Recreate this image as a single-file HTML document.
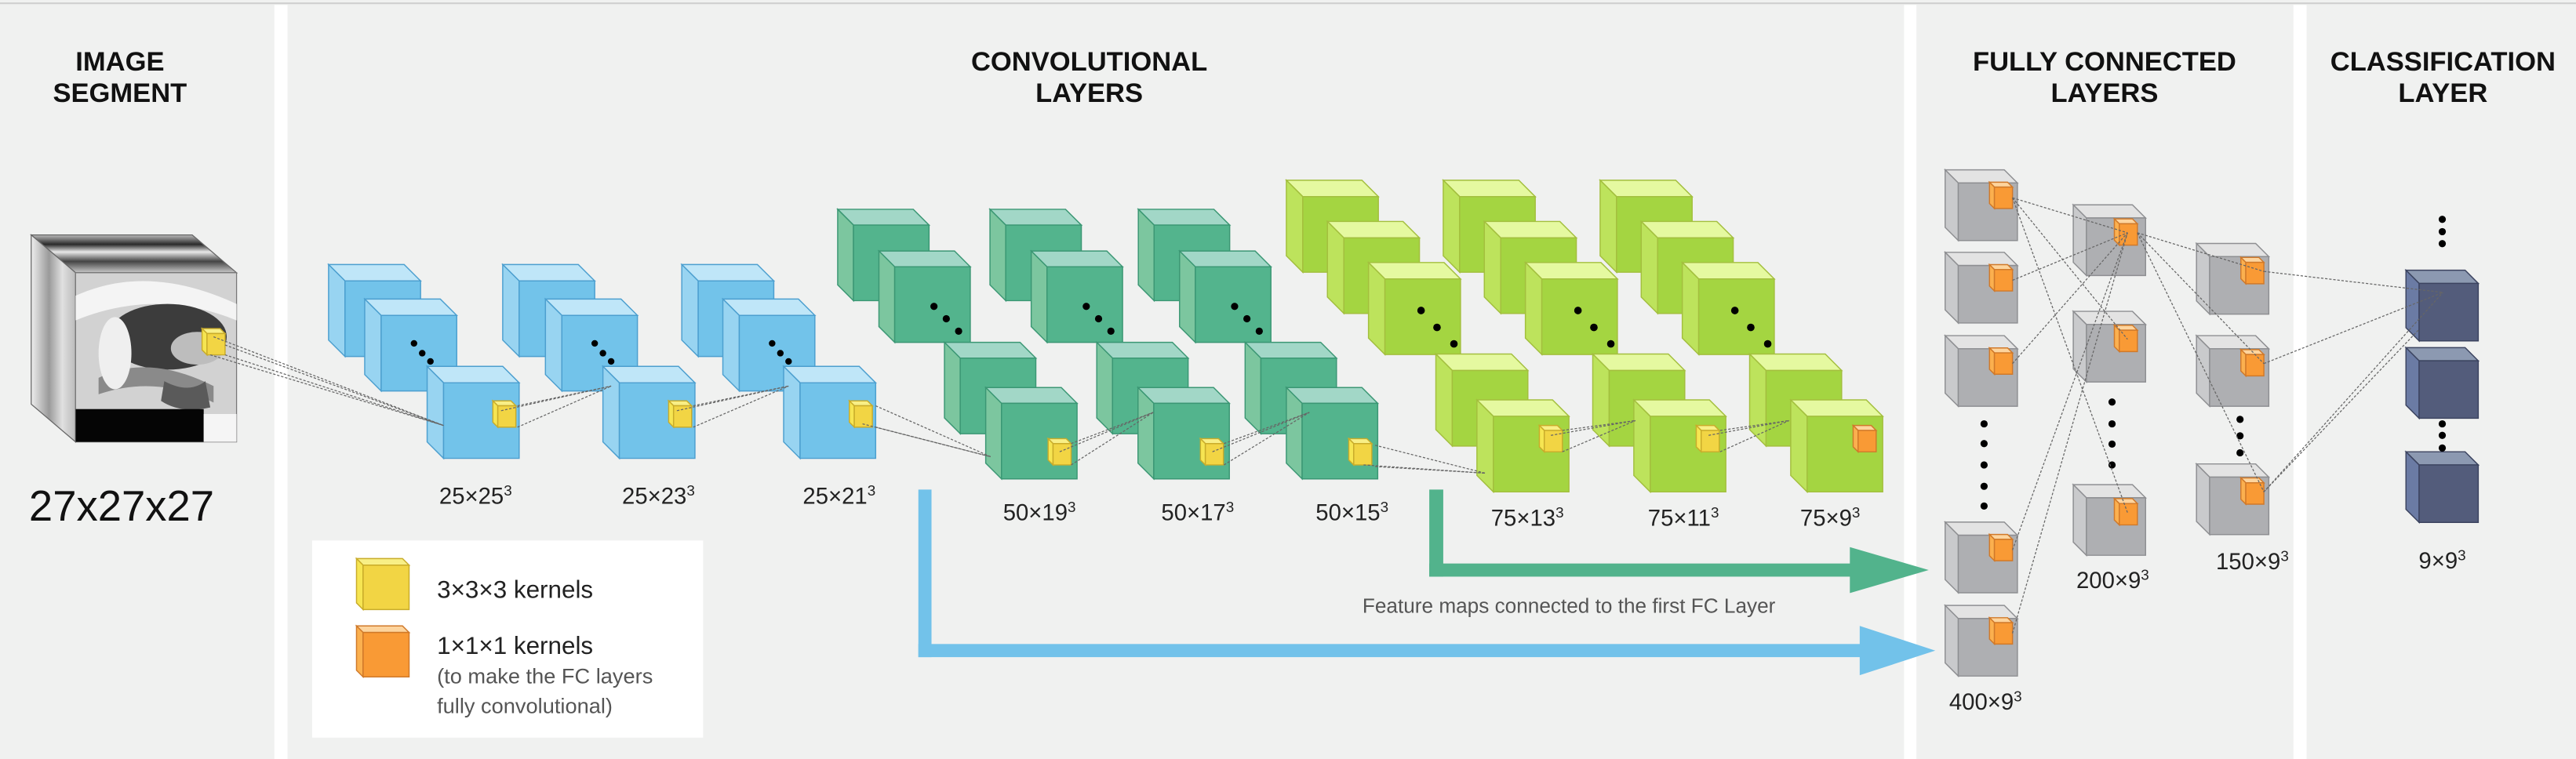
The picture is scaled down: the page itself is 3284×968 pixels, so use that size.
<!DOCTYPE html>
<html><head><meta charset="utf-8">
<style>
html,body{margin:0;padding:0;background:#f0f1f0;}
svg{display:block;}
text{font-family:"Liberation Sans","DejaVu Sans",sans-serif;}
</style></head>
<body>
<svg id="fig" width="3284" height="968" viewBox="0 0 1568 462" preserveAspectRatio="none" xmlns="http://www.w3.org/2000/svg">
  <rect x="0" y="0" width="1568" height="462" fill="#f0f1f0"/>
  <rect x="0" y="1.5" width="1568" height="1" fill="#cfcfcf"/>
  <rect x="167" y="3" width="8" height="459" fill="#ffffff"/>
  <rect x="1159" y="3" width="7.5" height="459" fill="#ffffff"/>
  <rect x="1396" y="3" width="8" height="459" fill="#ffffff"/>

  <g font-weight="bold" font-size="16.5" fill="#111" text-anchor="middle">
    <text x="73" y="43">IMAGE</text>
    <text x="73" y="62">SEGMENT</text>
    <text x="663" y="43">CONVOLUTIONAL</text>
    <text x="663" y="62">LAYERS</text>
    <text x="1281" y="43">FULLY CONNECTED</text>
    <text x="1281" y="62">LAYERS</text>
    <text x="1487" y="43">CLASSIFICATION</text>
    <text x="1487" y="62">LAYER</text>
  </g>

  <g>
    <defs>
      <linearGradient id="topg" x1="0" y1="0" x2="0" y2="1">
        <stop offset="0" stop-color="#bcbcbc"/><stop offset="0.25" stop-color="#2a2a2a"/><stop offset="0.45" stop-color="#e8e8e8"/><stop offset="0.7" stop-color="#444"/><stop offset="1" stop-color="#c8c8c8"/>
      </linearGradient>
      <linearGradient id="sideg" x1="0" y1="0" x2="1" y2="0">
        <stop offset="0" stop-color="#eeeeee"/><stop offset="0.4" stop-color="#9a9a9a"/><stop offset="0.7" stop-color="#e0e0e0"/><stop offset="1" stop-color="#bbb"/>
      </linearGradient>
      <clipPath id="frontclip"><rect x="46" y="166" width="98" height="103"/></clipPath>
    </defs>
    <polygon points="46,166 144,166 117,143 19,143" fill="url(#topg)" stroke="#666" stroke-width="0.6"/>
    <polygon points="46,166 19,143 19,246 46,269" fill="url(#sideg)" stroke="#666" stroke-width="0.6"/>
    <rect x="46" y="166" width="98" height="103" fill="#d2d2d2" stroke="#777" stroke-width="0.6"/>
    <g clip-path="url(#frontclip)">
      <path d="M46,180 Q90,160 144,185 L144,195 Q95,175 46,195 Z" fill="#f4f4f4"/>
      <ellipse cx="102" cy="205" rx="36" ry="20" fill="#3c3c3c"/>
      <ellipse cx="120" cy="212" rx="16" ry="10" fill="#bdbdbd"/>
      <path d="M60,230 Q90,215 130,235 L130,245 Q95,228 60,240 Z" fill="#8a8a8a"/>
      <ellipse cx="70" cy="215" rx="10" ry="22" fill="#efefef"/>
      <path d="M100,232 Q115,240 125,232 L128,248 Q110,252 98,244 Z" fill="#5a5a5a"/>
      <rect x="46" y="249" width="78" height="20" fill="#050505"/>
      <rect x="124" y="252" width="20" height="17" fill="#f5f5f5"/>
    </g>
  </g>
  <text x="74" y="317" font-size="26" text-anchor="middle" fill="#111">27x27x27</text>

  <g>
    <rect x="190" y="329" width="238" height="120" fill="#ffffff"/>
    <text x="266" y="364" font-size="15" fill="#222">3×3×3 kernels</text>
    <text x="266" y="398" font-size="15" fill="#222">1×1×1 kernels</text>
    <text x="266" y="416" font-size="13" fill="#555">(to make the FC layers</text>
    <text x="266" y="434" font-size="13" fill="#555">fully convolutional)</text>
  </g>

  <g fill="#72c2ea">
    <rect x="559" y="298" width="8" height="102"/>
    <rect x="559" y="392" width="576" height="8"/>
    <polygon points="1132,381 1178,396 1132,411"/>
  </g>
  <g fill="#52b38c">
    <rect x="870" y="298" width="8.5" height="53"/>
    <rect x="870" y="343" width="260" height="8"/>
    <polygon points="1126,333 1174,347 1126,361"/>
  </g>
  <text x="955" y="373" font-size="12.5" text-anchor="middle" fill="#555">Feature maps connected to the first FC Layer</text>

  <g id="cubes"></g>
  <g id="lines"></g>
  <g id="labels" font-size="14" fill="#222" text-anchor="middle"></g>
</svg>
<script>
const convLabels = ["25×25", "25×23", "25×21", "50×19", "50×17", "50×15", "75×13", "75×11", "75×9"];
const fcLabels = ["400×9", "200×9", "150×9", "9×9"];

const NS = "http://www.w3.org/2000/svg";
const cubesG = document.getElementById("cubes");
const linesG = document.getElementById("lines");
const labelsG = document.getElementById("labels");

const PAL = {
  blue:  {f:"#72c3ea", s:"#98d4f1", t:"#bfe6f8", k:"#4c9fcf"},
  teal:  {f:"#53b48d", s:"#7cc69f", t:"#a2d7c7", k:"#3b9774"},
  lime:  {f:"#a4d541", s:"#bde35c", t:"#e5f9a0", k:"#a3bf3e"},
  gray:  {f:"#aeafb2", s:"#c9cacc", t:"#e3e3e3", k:"#8e8f92"},
  navy:  {f:"#535c7b", s:"#6b7ba4", t:"#8c99b1", k:"#3c4460"},
  yel:   {f:"#f2d544", s:"#f6e552", t:"#f8ef86", k:"#c9ac2a"},
  org:   {f:"#f99a35", s:"#fbb04f", t:"#fdd49d", k:"#d0792a"}
};

function poly(g, pts, fill, stroke) {
  const p = document.createElementNS(NS, "polygon");
  p.setAttribute("points", pts.map(a => a.join(",")).join(" "));
  p.setAttribute("fill", fill);
  p.setAttribute("stroke", stroke);
  p.setAttribute("stroke-width", "0.7");
  g.appendChild(p);
}
function cube(x, y, w, h, d, pal, name) {
  const g = document.createElementNS(NS, "g");
  
  
  poly(g, [[x,y],[x+w,y],[x+w-d,y-d],[x-d,y-d]], pal.t, pal.k);
  poly(g, [[x,y],[x-d,y-d],[x-d,y+h-d],[x,y+h]], pal.s, pal.k);
  poly(g, [[x,y],[x+w,y],[x+w,y+h],[x,y+h]], pal.f, pal.k);
  cubesG.appendChild(g);
  return g;
}
function dot(cx, cy, r) {
  const c = document.createElementNS(NS, "circle");
  
  
  c.setAttribute("cx", cx); c.setAttribute("cy", cy); c.setAttribute("r", r || 2);
  c.setAttribute("fill", "#000");
  cubesG.appendChild(c);
}
function kernel(x, y, pal, name) {
  cube(x, y, 11, 13, 3, pal, name);
}
function line(x1, y1, x2, y2) {
  const l = document.createElementNS(NS, "line");
  
  
  l.setAttribute("x1", x1); l.setAttribute("y1", y1);
  l.setAttribute("x2", x2); l.setAttribute("y2", y2);
  l.setAttribute("stroke", "#666");
  l.setAttribute("stroke-width", "0.6");
  l.setAttribute("stroke-dasharray", "1.5 1");
  linesG.appendChild(l);
}
function label(x, y, base, sup, name) {
  const t = document.createElementNS(NS, "text");
  
  
  t.setAttribute("x", x); t.setAttribute("y", y);
  t.appendChild(document.createTextNode(base));
  const s = document.createElementNS(NS, "tspan");
  s.setAttribute("font-size", "9");
  s.setAttribute("dy", "-5");
  s.textContent = sup;
  t.appendChild(s);
  labelsG.appendChild(t);
}

cube(221, 344, 28, 27, 4, PAL.yel, "legend-yellow-kernel-icon");
cube(221, 385, 28, 27, 4, PAL.org, "legend-orange-kernel-icon");
kernel(126, 203, PAL.yel, "input-kernel");

const blueGX = [[210,232,270],[316,342,377],[425,450,487]];
const blueY = [171,192,233];
blueGX.forEach((gx, i) => {
  gx.forEach((x, j) => cube(x, blueY[j], 46, 46, 10, PAL.blue, "blue-conv-cube"));
  const ox = gx[1] - 232;
  dot(252+ox,209,2); dot(257+ox,215,2); dot(262+ox,220,2);
  kernel(gx[2]+33, 247, PAL.yel, "blue-kernel");
});
const tealGX = [0, 92.7, 183];
const tealPos = [[519.5,137],[544.6,162.4],[584.5,218],[609.6,245.5]];
tealGX.forEach((o) => {
  tealPos.forEach(p => cube(p[0]+o, p[1], 46, 46, 9.6, PAL.teal, "teal-conv-cube"));
  dot(568.5+o,186.5,2.2); dot(576+o,194,2.2); dot(583.5+o,201.6,2.2);
  kernel(641+o, 270, PAL.yel, "teal-kernel");
});
const limeGX = [0, 95.5, 191];
const limePos = [[793,119.7],[818,144.8],[843,169.8],[884,225.5],[909,253.4]];
limeGX.forEach((o, i) => {
  limePos.forEach(p => cube(p[0]+o, p[1], 46, 46, 10, PAL.lime, "lime-conv-cube"));
  dot(865+o,189,2.3); dot(874.7+o,199.3,2.3); dot(885+o,209.3,2.3);
  kernel(940+o, 262, i === 2 ? PAL.org : PAL.yel, i === 2 ? "orange-kernel" : "lime-kernel");
});

const fcCol1Y = [111.4, 161.6, 212.3, 325.8, 376.5];
const fcCol2Y = [132.7, 197.5, 303];
const fcCol3Y = [156.2, 212.3, 290.4];
const navyY = [172.5, 219.6, 283];
const k1 = [], k2 = [], k3 = [];
fcCol1Y.forEach(y => { cube(1192, y, 36, 35, 8, PAL.gray, "fc1-cube"); kernel(1214, y+2.5, PAL.org, "fc1-kernel"); k1.push([1225, y+9]); });
fcCol2Y.forEach(y => { cube(1270, y, 36, 35, 8, PAL.gray, "fc2-cube"); kernel(1290, y+3.5, PAL.org, "fc2-kernel"); k2.push([1295, y+9]); });
fcCol3Y.forEach(y => { cube(1345, y, 36, 35, 8, PAL.gray, "fc3-cube"); kernel(1367, y+3.5, PAL.org, "fc3-kernel"); k3.push([1378, y+9]); });
navyY.forEach(y => cube(1472.5, y, 36, 35, 8, PAL.navy, "classification-cube"));
[258,270,283,296,308].forEach(y => dot(1207.7, y, 2.2));
[244.7,258,270.3,283].forEach(y => dot(1285.6, y, 2.2));
[255.3,265.3,275.6].forEach(y => dot(1363.5, y, 2.2));
[133.5,141,148.3].forEach(y => dot(1486.6, y, 2.2));
[258,265,272.7].forEach(y => dot(1486.6, y, 2.2));

[[130,205],[137,210],[128,216],[137,216]].forEach(p => line(p[0],p[1],270,259));
[[315,247],[315,260],[305,250]].forEach(p => line(p[0],p[1],372,235));
[[422,247],[422,260],[412,250]].forEach(p => line(p[0],p[1],480,235));
[[533,247],[533,260],[525,258]].forEach(p => line(p[0],p[1],603,278));
[[652,270],[652,283],[645,275]].forEach(p => line(p[0],p[1],702,251));
[[745,270],[745,283],[738,275]].forEach(p => line(p[0],p[1],797,251));
[[837,271],[837,284],[830,283]].forEach(p => line(p[0],p[1],904,288));
[[951,262],[951,275],[944,265]].forEach(p => line(p[0],p[1],995.5,256));
[[1047,262],[1047,275],[1040,265]].forEach(p => line(p[0],p[1],1089,256));
k1.forEach(p => line(p[0], p[1], k2[0][0], k2[0][1]));
line(k1[0][0], k1[0][1], k2[1][0], k2[1][1]);
line(k1[0][0], k1[0][1], k2[2][0], k2[2][1]);
k3.forEach(p => line(k2[0][0]+6, k2[0][1], p[0], p[1]));
k3.forEach(p => line(p[0], p[1], 1487, 178));
line(1472, 201, k3[2][0], k3[2][1]);

const convX = [289.5, 400.8, 510.8, 632.7, 729, 823, 929.7, 1024.7, 1114];
const convY = [306.6, 306.6, 306.6, 316.6, 316.6, 316.6, 320, 320, 320];
convLabels.forEach((s, i) => label(convX[i], convY[i], s, "3", "conv-size-label"));
const fcX = [1208.6, 1286, 1371, 1486.6];
const fcYL = [432, 358, 346.4, 346];
fcLabels.forEach((s, i) => label(fcX[i], fcYL[i], s, "3", "fc-size-label"));
</script>
</body></html>
